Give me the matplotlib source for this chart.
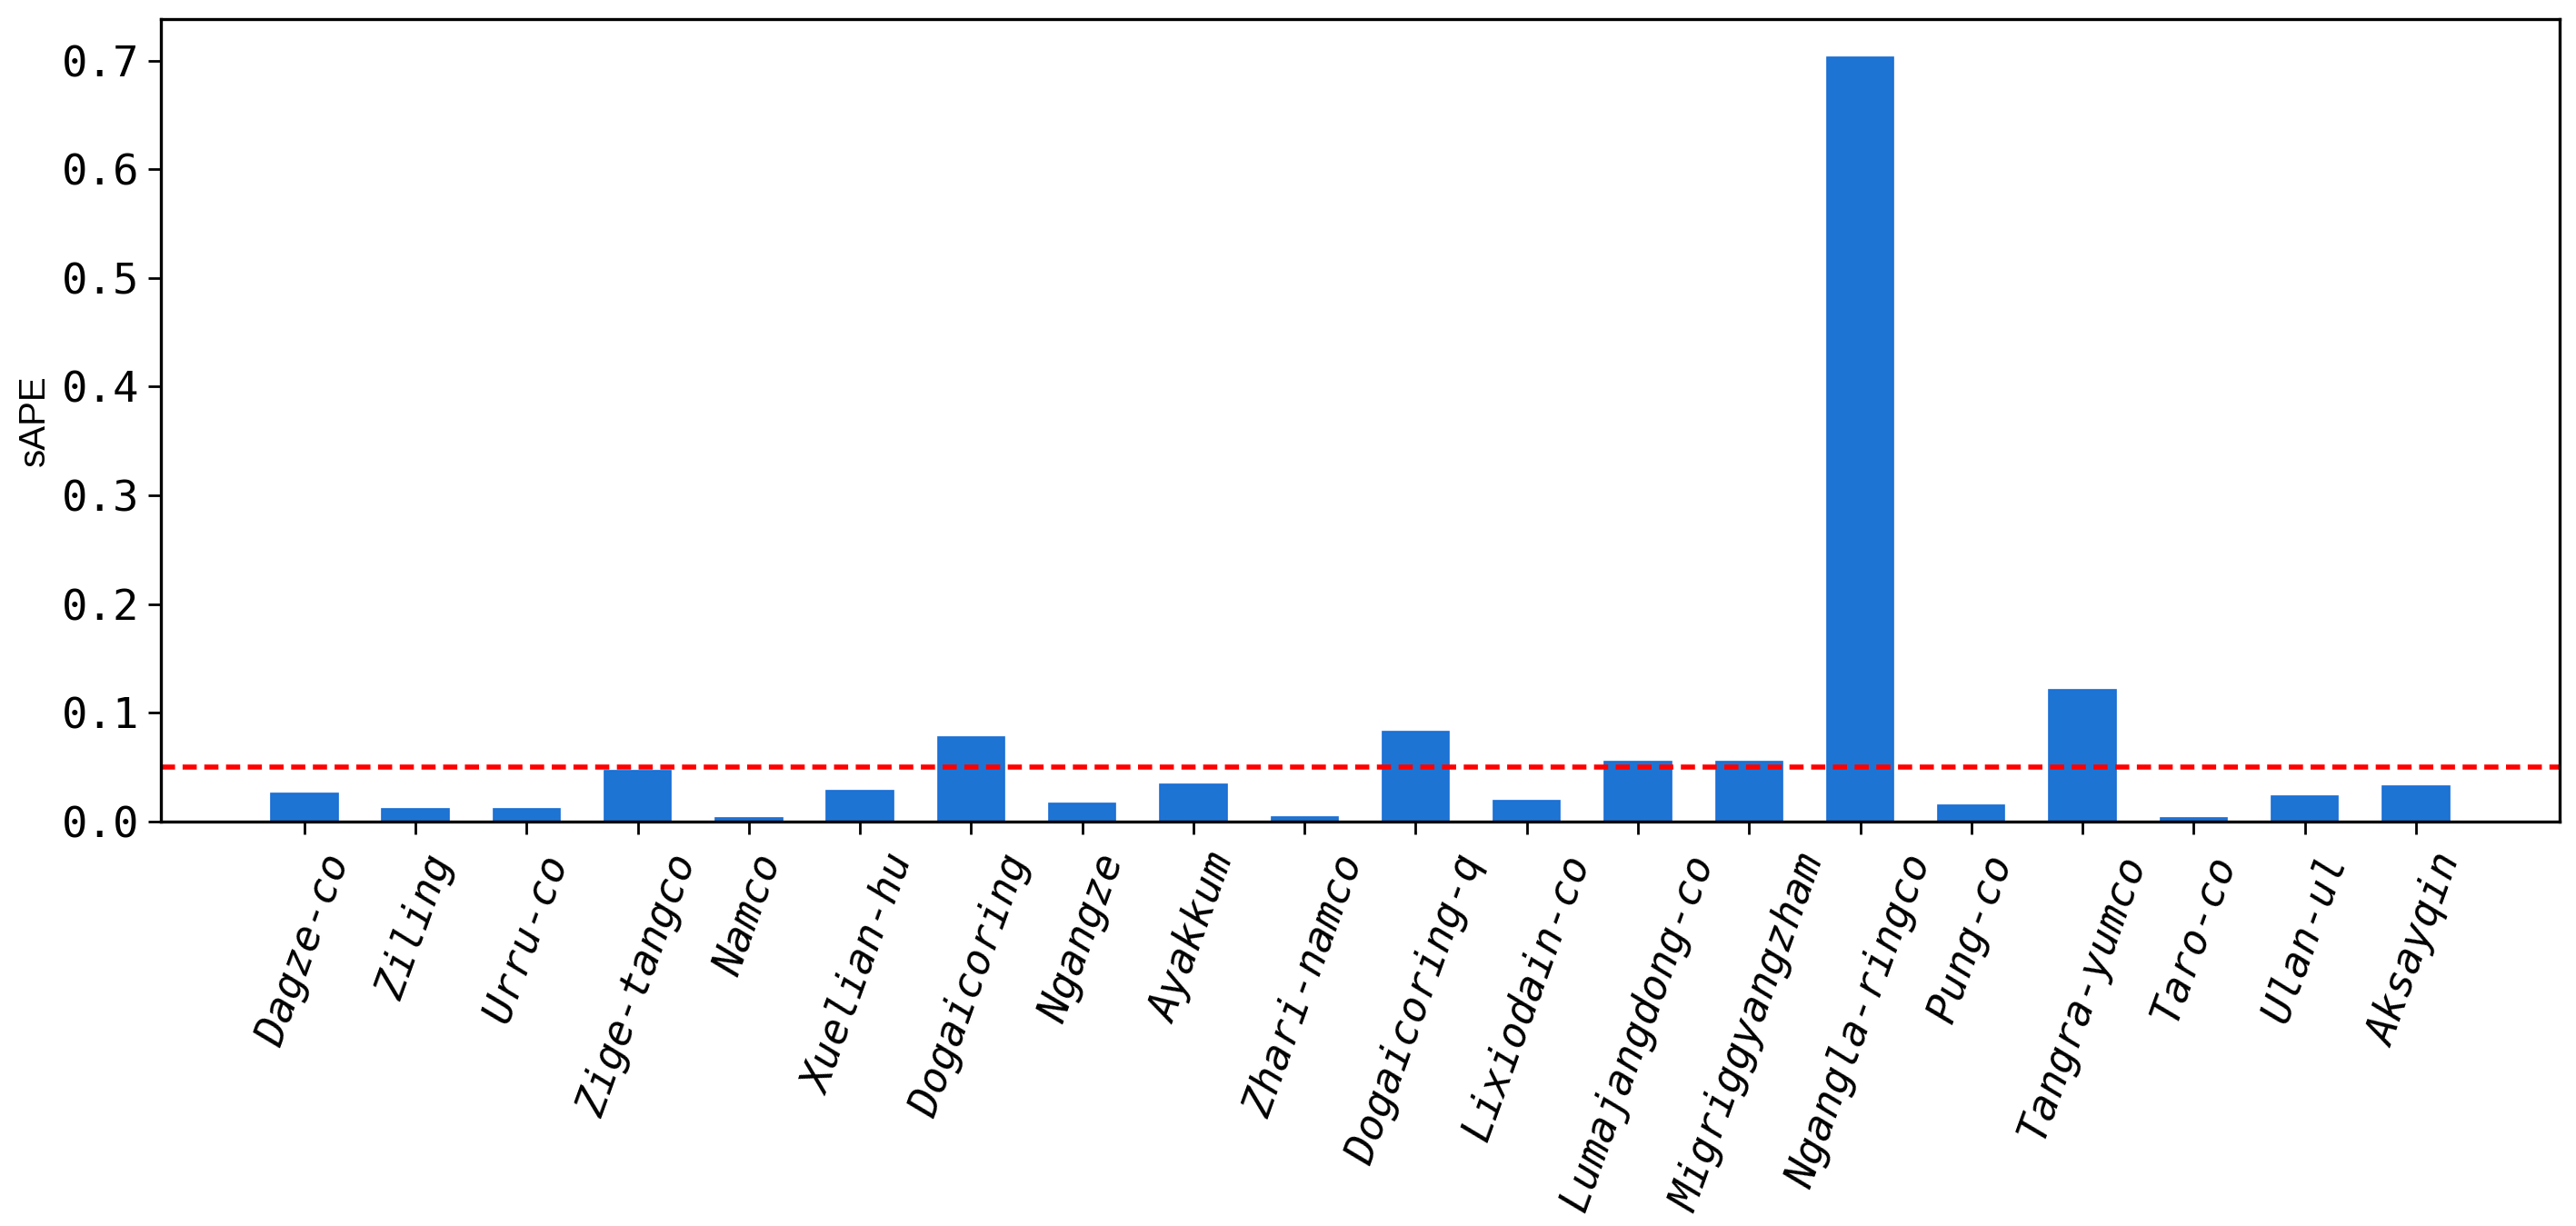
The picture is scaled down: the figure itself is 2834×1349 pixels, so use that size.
import numpy as np
import matplotlib
matplotlib.use("Agg")
import matplotlib.pyplot as plt

# ---- data ----
lakes = ["Dagze-co", "Ziling", "Urru-co", "Zige-tangco", "Namco", "Xuelian-hu",
         "Dogaicoring", "Ngangze", "Ayakkum", "Zhari-namco", "Dogaicoring-q",
         "Lixiodain-co", "Lumajangdong-co", "Migriggyangzham", "Ngangla-ringco",
         "Pung-co", "Tangra-yumco", "Taro-co", "Ulan-ul", "Aksayqin"]
sape = [0.0256, 0.0117, 0.0117, 0.0465, 0.0028, 0.0279,
        0.0780, 0.0164, 0.0345, 0.0039, 0.0825,
        0.0187, 0.0552, 0.0552, 0.7030,
        0.0145, 0.1210, 0.0028, 0.0234, 0.0323]
threshold = 0.05
yticks = [0.0, 0.1, 0.2, 0.3, 0.4, 0.5, 0.6, 0.7]

# ---- plot ----
fig = plt.figure(figsize=(2834 / 200, 1349 / 200), dpi=200)
ax = fig.add_axes([0.0625, 0.330, 0.931, 0.6545])

x = np.arange(len(lakes))
ax.bar(x, sape, width=0.6, color="#1e74d3", edgecolor="#1a6fd6", linewidth=0.6)
ax.axhline(threshold, color="red", linestyle=(0, (2.8, 1.5)), linewidth=2)

ax.set_xlim(-1.29, len(lakes) - 1 + 1.29)
ax.set_ylim(0, max(sape) * 1.05)
ax.set_yticks(yticks)
ax.set_yticklabels([f"{v:.1f}" for v in yticks], family="DejaVu Sans Mono", fontsize=17)
ax.set_xticks(x)
ax.set_xticklabels(lakes, rotation=70, family="DejaVu Sans Mono",
                   style="italic", fontsize=16.5)
ax.set_ylabel("sAPE", family="Liberation Sans", fontsize=14.5, labelpad=4)

for s in ax.spines.values():
    s.set_linewidth(1.2)
ax.tick_params(axis="both", length=5, width=1.0)
ax.tick_params(axis="x", pad=6)

fig.savefig("out.png", dpi=200)
